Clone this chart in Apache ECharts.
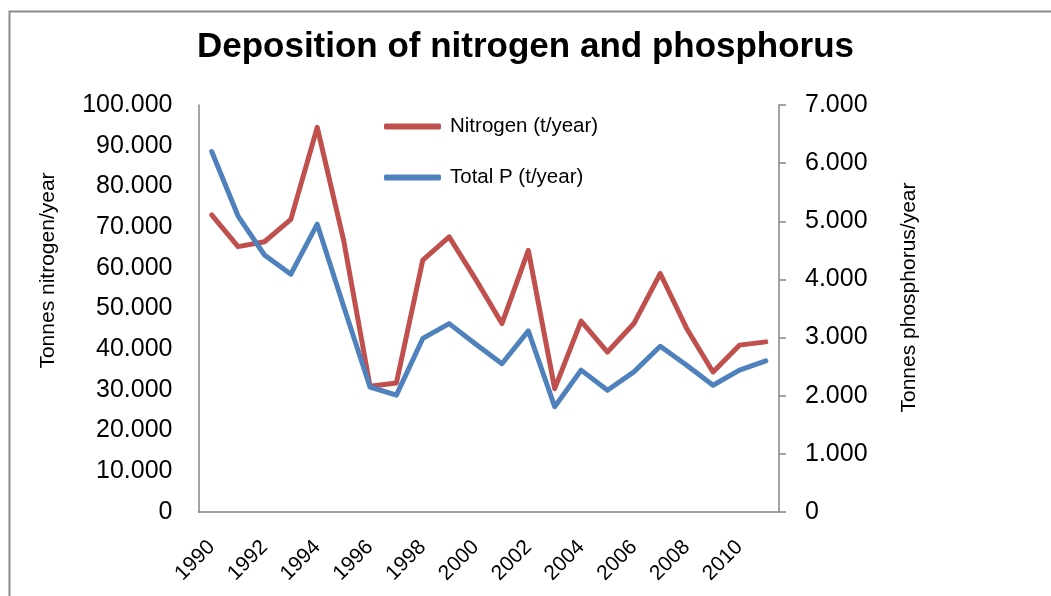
<!DOCTYPE html>
<html>
<head>
<meta charset="utf-8">
<script src="https://cdn.jsdelivr.net/npm/echarts@6/dist/echarts.min.js"></script>
<style>
  html, body { margin: 0; padding: 0; background: #fff; }
  #chart { width: 1051px; height: 596px; }
</style>
</head>
<body>
<div id="chart"></div>
<script>
// years on the x axis
const years = ['1990', '1991', '1992', '1993', '1994', '1995', '1996', '1997', '1998', '1999', '2000',
  '2001', '2002', '2003', '2004', '2005', '2006', '2007', '2008', '2009', '2010', '2011']

// nitrogen deposition (t/year), left axis
const nitrogen = [73000, 65200, 66400, 71900, 94500, 66800, 30900, 31700, 61900, 67600, 57200,
  46300, 64300, 30300, 46900, 39300, 46300, 58600, 45100, 34400, 41000, 41800]

// total phosphorus (t/year), right axis
const phosphorus = [6200, 5090, 4420, 4090, 4950, 3540, 2150, 2010, 2985, 3240, 2890,
  2550, 3115, 1810, 2440, 2095, 2410, 2850, 2525, 2180, 2440, 2600]

const font = 'Liberation Sans, Arial, sans-serif'
const axisGray = '#868686'

// 100000 -> "100.000"
const fmtThousands = v => {
  if (v === 0) return '0'
  return Math.floor(v / 1000) + '.' + String(v % 1000).padStart(3, '0')
}

const chart = echarts.init(document.getElementById('chart'))

chart.setOption({
  animation: false,
  title: {
    text: 'Deposition of nitrogen and phosphorus',
    left: 'center',
    top: 25,
    textStyle: { fontFamily: font, fontSize: 35, fontWeight: 'bold', color: '#000' }
  },
  legend: {
    orient: 'vertical',
    left: 379,
    top: 111,
    itemWidth: 57,
    itemHeight: 6,
    itemGap: 30,
    icon: 'roundRect',
    textStyle: { fontFamily: font, fontSize: 20.5, color: '#000', padding: [0, 0, 0, 4] },
    data: ['Nitrogen (t/year)', 'Total P (t/year)']
  },
  grid: {
    left: 198.5,
    right: 272,
    top: 105,
    bottom: 84
  },
  xAxis: {
    type: 'category',
    data: years,
    boundaryGap: true,
    axisLine: { lineStyle: { color: axisGray, width: 1.5 } },
    axisTick: { show: false },
    axisLabel: {
      interval: 1,
      rotate: 45,
      margin: 32,
      fontFamily: font,
      fontSize: 21,
      color: '#000'
    }
  },
  yAxis: [
    {
      type: 'value',
      min: 0,
      max: 100000,
      interval: 10000,
      name: 'Tonnes nitrogen/year',
      nameLocation: 'middle',
      nameRotate: 90,
      nameGap: 140,
      nameTextStyle: { fontFamily: font, fontSize: 21, color: '#000', padding: [0, 0, 0, 76] },
      axisLine: { show: true, lineStyle: { color: axisGray, width: 1.5 } },
      axisTick: { show: false },
      splitLine: { show: false },
      axisLabel: {
        margin: 26,
        fontFamily: font,
        fontSize: 25,
        color: '#000',
        formatter: fmtThousands
      }
    },
    {
      type: 'value',
      position: 'right',
      min: 0,
      max: 7000,
      interval: 1000,
      name: 'Tonnes phosphorus/year',
      nameLocation: 'middle',
      nameRotate: 90,
      nameGap: 120,
      nameTextStyle: { fontFamily: font, fontSize: 21, color: '#000', padding: [0, 0, 0, 22] },
      axisLine: { show: true, lineStyle: { color: axisGray, width: 1.5 } },
      axisTick: { show: true, inside: false, length: 7, lineStyle: { color: axisGray, width: 1.5 } },
      splitLine: { show: false },
      axisLabel: {
        margin: 26,
        fontFamily: font,
        fontSize: 25,
        color: '#000',
        formatter: fmtThousands
      }
    }
  ],
  series: [
    {
      name: 'Nitrogen (t/year)',
      type: 'line',
      yAxisIndex: 0,
      data: nitrogen,
      symbol: 'none',
      color: '#C0504D',
      lineStyle: { width: 5, color: '#C0504D', cap: 'round', join: 'round' }
    },
    {
      name: 'Total P (t/year)',
      type: 'line',
      yAxisIndex: 1,
      data: phosphorus,
      symbol: 'none',
      color: '#4F81BD',
      lineStyle: { width: 5, color: '#4F81BD', cap: 'round', join: 'round' }
    }
  ],
  graphic: [
    {
      // outer frame of the chart area (cut off at right and bottom)
      type: 'rect',
      left: 7,
      top: 9,
      shape: { width: 1200, height: 800 },
      style: { fill: null, stroke: '#8a8a8a', lineWidth: 2 },
      silent: true,
      z: -1
    }
  ]
})
</script>
</body>
</html>
